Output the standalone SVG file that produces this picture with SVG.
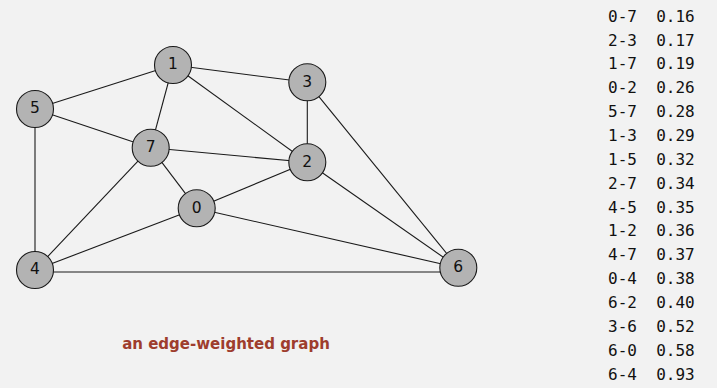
<svg xmlns="http://www.w3.org/2000/svg" width="717" height="388" viewBox="0 0 717 388">
  <style>
    .edge { stroke: #1a1a1a; stroke-width: 1.1; fill: none; }
    .node circle { fill: #b3b3b3; stroke: #1a1a1a; stroke-width: 1.1; }
    .node text { font-family: "DejaVu Sans", sans-serif; font-size: 15.5px; fill: #111; text-anchor: middle; dominant-baseline: central; }
    .weights text { font-family: "DejaVu Sans Mono", monospace; font-size: 16px; fill: #111; white-space: pre; }
    .caption { font-family: "DejaVu Sans", sans-serif; font-size: 15px; font-weight: bold; fill: #9e3d2d; text-anchor: middle; }
  </style>
  <rect width="717" height="388" fill="#f2f2f2"/>

  <g id="edges">
    <line class="edge" x1="196.7" y1="208.3" x2="150.7" y2="147.7"/>
    <line class="edge" x1="307.3" y1="162.3" x2="307.3" y2="82.3"/>
    <line class="edge" x1="173" y1="65" x2="150.7" y2="147.7"/>
    <line class="edge" x1="196.7" y1="208.3" x2="307.3" y2="162.3"/>
    <line class="edge" x1="35" y1="109" x2="150.7" y2="147.7"/>
    <line class="edge" x1="173" y1="65" x2="307.3" y2="82.3"/>
    <line class="edge" x1="173" y1="65" x2="35" y2="109"/>
    <line class="edge" x1="307.3" y1="162.3" x2="150.7" y2="147.7"/>
    <line class="edge" x1="35" y1="270" x2="35" y2="109"/>
    <line class="edge" x1="173" y1="65" x2="307.3" y2="162.3"/>
    <line class="edge" x1="35" y1="270" x2="150.7" y2="147.7"/>
    <line class="edge" x1="196.7" y1="208.3" x2="35" y2="270"/>
    <line class="edge" x1="458.3" y1="267.7" x2="307.3" y2="162.3"/>
    <line class="edge" x1="307.3" y1="82.3" x2="458.3" y2="267.7"/>
    <line class="edge" x1="458.3" y1="267.7" x2="196.7" y2="208.3"/>
    <line class="edge" x1="445" y1="272" x2="35" y2="272"/>
  </g>

  <g id="node0" class="node"><circle cx="196.7" cy="208.3" r="18.5"/><text x="196.7" y="207.5">0</text></g>
  <g id="node1" class="node"><circle cx="173" cy="65" r="18.5"/><text x="173" y="64.2">1</text></g>
  <g id="node2" class="node"><circle cx="307.3" cy="162.3" r="18.5"/><text x="307.3" y="161.5">2</text></g>
  <g id="node3" class="node"><circle cx="307.3" cy="82.3" r="18.5"/><text x="307.3" y="81.5">3</text></g>
  <g id="node4" class="node"><circle cx="35" cy="270" r="18.5"/><text x="35" y="269.2">4</text></g>
  <g id="node5" class="node"><circle cx="35" cy="109" r="18.5"/><text x="35" y="108.2">5</text></g>
  <g id="node6" class="node"><circle cx="458.3" cy="267.7" r="18.5"/><text x="458.3" y="266.9">6</text></g>
  <g id="node7" class="node"><circle cx="150.7" cy="147.7" r="18.5"/><text x="150.7" y="146.9">7</text></g>

  <text class="caption" x="226" y="348.5">an edge-weighted graph</text>

  <g id="weights" class="weights">
    <text x="608" y="21.6">0-7  0.16</text>
    <text x="608" y="45.5">2-3  0.17</text>
    <text x="608" y="69.4">1-7  0.19</text>
    <text x="608" y="93.2">0-2  0.26</text>
    <text x="608" y="117.1">5-7  0.28</text>
    <text x="608" y="141">1-3  0.29</text>
    <text x="608" y="164.8">1-5  0.32</text>
    <text x="608" y="188.7">2-7  0.34</text>
    <text x="608" y="212.6">4-5  0.35</text>
    <text x="608" y="236.4">1-2  0.36</text>
    <text x="608" y="260.3">4-7  0.37</text>
    <text x="608" y="284.2">0-4  0.38</text>
    <text x="608" y="308">6-2  0.40</text>
    <text x="608" y="331.9">3-6  0.52</text>
    <text x="608" y="355.8">6-0  0.58</text>
    <text x="608" y="379.6">6-4  0.93</text>
  </g>
</svg>
